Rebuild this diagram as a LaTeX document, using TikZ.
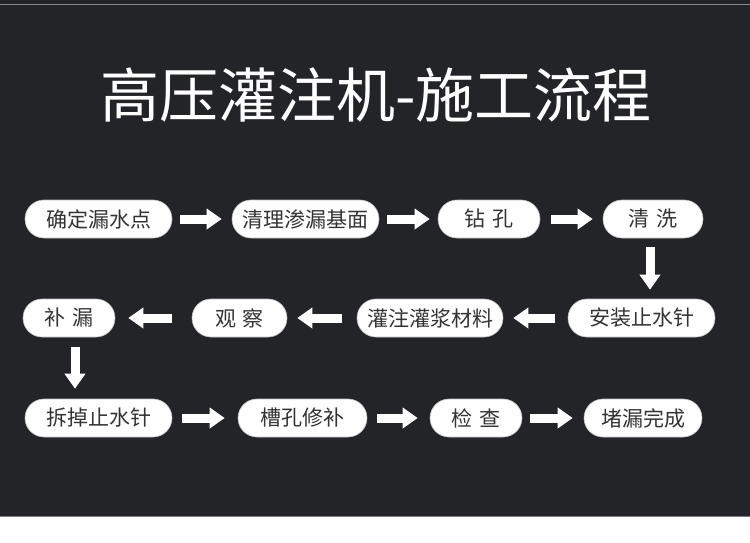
\documentclass[tikz,border=0pt]{standalone}
\usepackage{fontspec}
\setmainfont{Noto Sans CJK SC}
\usetikzlibrary{arrows.meta}
\definecolor{bg}{HTML}{232428}
\definecolor{txt}{HTML}{333333}
\tikzset{
  stepbox/.style={draw=black!25, line width=0.6pt, fill=white, rounded corners=19pt,
    minimum height=38pt, inner sep=0pt, text=txt, font=\fontsize{21}{23}\selectfont},
  blockarrow/.style 2 args={draw=white, line width=9pt, line cap=butt,
    -{Triangle[length=15pt 0 0,width=20pt 0 0]}, shorten <=#1pt, shorten >=#2pt},
}
\begin{document}
\begin{tikzpicture}[x=1pt,y=-1pt]
\useasboundingbox (0,0) rectangle (750,542);
\fill[white] (0,0) rectangle (750,542);
\fill[bg] (0,0) rectangle (750,516.5);
\draw[black!45, line width=1pt] (0,4) -- (750,4);
\draw[black!50, line width=1pt] (0,516) -- (750,516);
\node[text=white, font=\fontsize{59}{64}\selectfont] (title) at (376,95) {高压灌注机-施工流程};
% row 1
\node[stepbox, minimum width=147pt] (n1) at (98.5,219) {确定漏水点};
\node[stepbox, minimum width=147pt] (n2) at (305.5,219) {清理渗漏基面};
\node[stepbox, minimum width=102pt] (n3) at (489,219) {钻\hspace{0.3em}孔};
\node[stepbox, minimum width=100pt] (n4) at (653,219) {清\hspace{0.3em}洗};
% row 2
\node[stepbox, minimum width=147pt] (n5) at (641.5,318) {安装止水针};
\node[stepbox, minimum width=146pt] (n6) at (430,318) {灌注灌浆材料};
\node[stepbox, minimum width=95pt] (n7) at (239.5,318) {观\hspace{0.3em}察};
\node[stepbox, minimum width=92pt] (n8) at (69,318) {补\hspace{0.3em}漏};
% row 3
\node[stepbox, minimum width=147pt] (n9) at (98.5,418) {拆掉止水针};
\node[stepbox, minimum width=129pt] (n10) at (302.5,418) {槽孔修补};
\node[stepbox, minimum width=92pt] (n11) at (476,418) {检\hspace{0.3em}查};
\node[stepbox, minimum width=118pt] (n12) at (643,418) {堵漏完成};
% arrows
\draw[blockarrow={8}{10}] (n1.east) -- (n2.west);
\draw[blockarrow={8}{8}] (n2.east) -- (n3.west);
\draw[blockarrow={11}{10}] (n3.east) -- (n4.west);
\coordinate (d1) at ([xshift=-3pt]n4.south);
\draw[blockarrow={9}{9}] (d1) -- (d1 |- n5.north);
\draw[blockarrow={13}{10}] (n5.west) -- (n6.east);
\draw[blockarrow={15}{10}] (n6.west) -- (n7.east);
\draw[blockarrow={20}{13}] (n7.west) -- (n8.east);
\coordinate (d2) at ([xshift=6pt]n8.south);
\draw[blockarrow={10}{10}] (d2) -- (d2 |- n9.north);
\draw[blockarrow={10}{13}] (n9.east) -- (n10.west);
\draw[blockarrow={10}{12}] (n10.east) -- (n11.west);
\draw[blockarrow={8}{11}] (n11.east) -- (n12.west);
\end{tikzpicture}
\end{document}
